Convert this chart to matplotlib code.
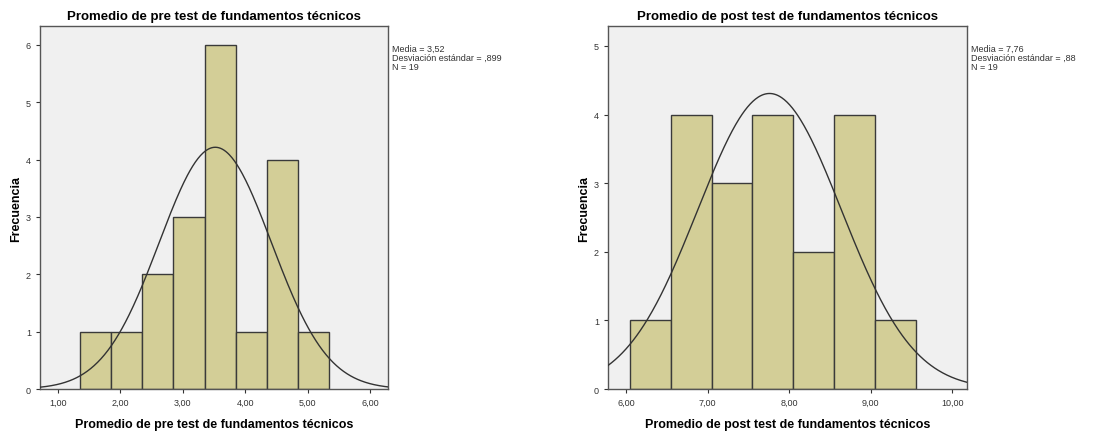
#!/usr/bin/env python3
"""SPSS-style histograms with normal curve: pre test vs post test."""

import math

import matplotlib

matplotlib.use("Agg")
import matplotlib.pyplot as plt
import numpy as np

plt.rcParams["font.family"] = ["Liberation Sans", "DejaVu Sans"]

# pre test
pre_edges = [1.35, 1.85, 2.35, 2.85, 3.35, 3.85, 4.35, 4.85, 5.35]
pre_counts = [1, 1, 2, 3, 6, 1, 4, 1]
pre_mean, pre_sd, pre_n = 3.52, 0.899, 19
pre_xticks = [1, 2, 3, 4, 5, 6]
pre_stats = ["Media = 3,52", "Desviación estándar = ,899", "N = 19"]

# post test
post_edges = [6.05, 6.55, 7.05, 7.55, 8.05, 8.55, 9.05, 9.55]
post_counts = [1, 4, 3, 4, 2, 4, 1]
post_mean, post_sd, post_n = 7.76, 0.88, 19
post_xticks = [6, 7, 8, 9, 10]
post_stats = ["Media = 7,76", "Desviación estándar = ,88", "N = 19"]

BAR = "#d3ce97"
EDGE = "#3a3a3a"
BG = "#f0f0f0"


def draw_panel(fig, rect, edges, counts, mean, sd, n, xticks, xlim, ylim, title, stats):
    ax = fig.add_axes(rect)
    ax.set_facecolor(BG)
    widths = np.diff(edges)
    ax.bar(edges[:-1], counts, width=widths, align="edge", color=BAR,
           edgecolor=EDGE, linewidth=1.0, zorder=2)
    xs = np.linspace(xlim[0], xlim[1], 400)
    bw = widths[0]
    ys = n * bw / (sd * math.sqrt(2 * math.pi)) * np.exp(-0.5 * ((xs - mean) / sd) ** 2)
    ax.plot(xs, ys, color="#333333", linewidth=1.0, zorder=3)
    ax.set_xlim(*xlim)
    ax.set_ylim(*ylim)
    ax.set_xticks(xticks)
    ax.set_xticklabels([f"{t:.2f}".replace(".", ",") for t in xticks])
    ax.set_yticks(range(0, int(ylim[1]) + 1))
    ax.tick_params(labelsize=6.5, colors="#333333", length=3, width=0.8)
    for s in ax.spines.values():
        s.set_color("#555555")
        s.set_linewidth(1.0)
    ax.set_title(title, fontsize=9.5, fontweight="bold", pad=5)
    ax.set_xlabel(title, fontsize=9, fontweight="bold", labelpad=8)
    ax.set_ylabel("Frecuencia", fontsize=9, fontweight="bold", labelpad=3)
    ax.text(1.012, 0.95, "\n".join(stats), transform=ax.transAxes, fontsize=6.5,
            va="top", ha="left", color="#333333", linespacing=1.0)
    return ax


fig = plt.figure(figsize=(11.03, 4.35), dpi=100)
draw_panel(fig, [0.0363, 0.1034, 0.3155, 0.8345], pre_edges, pre_counts,
           pre_mean, pre_sd, pre_n, pre_xticks, (0.71, 6.29), (0, 6.33),
           "Promedio de pre test de fundamentos técnicos", pre_stats)
draw_panel(fig, [0.5512, 0.1034, 0.3255, 0.8345], post_edges, post_counts,
           post_mean, post_sd, post_n, post_xticks, (5.78, 10.18), (0, 5.29),
           "Promedio de post test de fundamentos técnicos", post_stats)
fig.savefig("out.png", dpi=100)
